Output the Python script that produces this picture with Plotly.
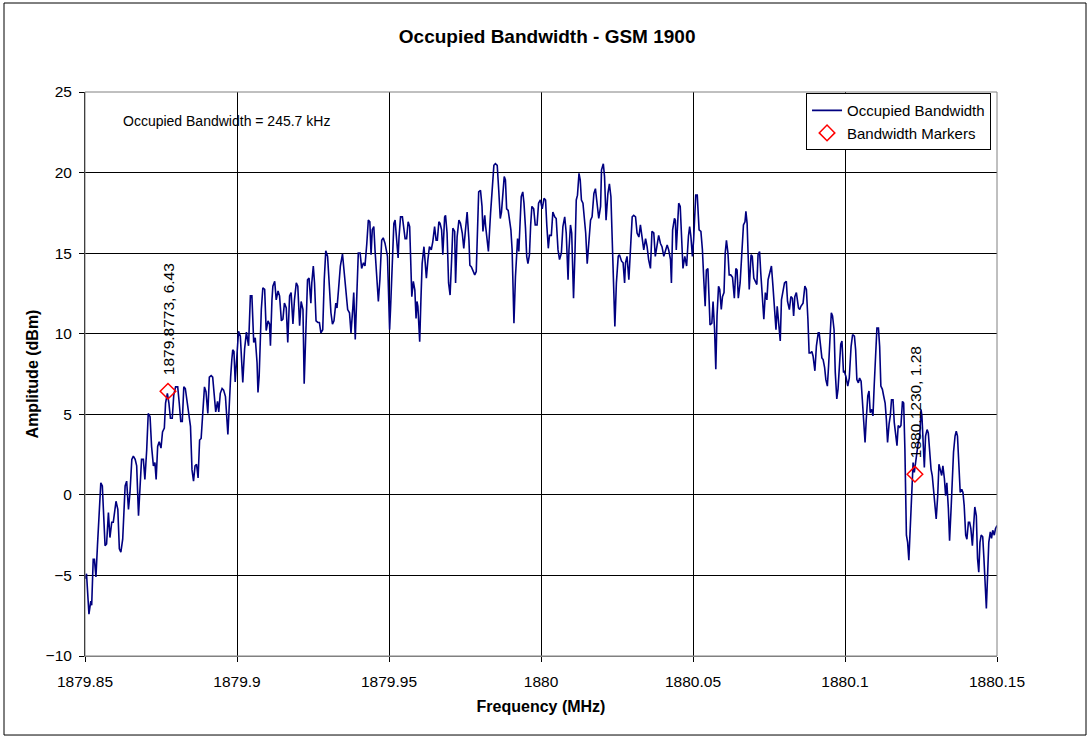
import plotly.graph_objects as go

# ---------------- data ----------------
freq_a = [1879.8500, 1879.8505, 1879.8513, 1879.8519, 1879.8522, 1879.8527, 1879.8531, 1879.8536, 1879.8541, 1879.8546,
          1879.8552, 1879.8557, 1879.8563, 1879.8566, 1879.8571, 1879.8577, 1879.8582, 1879.8588, 1879.8593, 1879.8602,
          1879.8608, 1879.8613, 1879.8618, 1879.8624, 1879.8632, 1879.8637, 1879.8643, 1879.8648, 1879.8654, 1879.8659,
          1879.8665, 1879.8670, 1879.8676, 1879.8681, 1879.8686, 1879.8692, 1879.8697, 1879.8703, 1879.8708, 1879.8714,
          1879.8719, 1879.8725, 1879.8730, 1879.8734, 1879.8739, 1879.8744, 1879.8750, 1879.8755, 1879.8761, 1879.8765,
          1879.8771, 1879.8776, 1879.8781, 1879.8787, 1879.8792, 1879.8798, 1879.8805, 1879.8810, 1879.8815, 1879.8820,
          1879.8825, 1879.8830, 1879.8836, 1879.8841, 1879.8847, 1879.8852, 1879.8857, 1879.8862, 1879.8867, 1879.8872,
          1879.8877, 1879.8882, 1879.8887, 1879.8893, 1879.8898, 1879.8904, 1879.8909, 1879.8915, 1879.8920, 1879.8926,
          1879.8930, 1879.8936, 1879.8940, 1879.8945, 1879.8951, 1879.8956, 1879.8962, 1879.8970, 1879.8974, 1879.8979,
          1879.8983, 1879.8986, 1879.8990, 1879.8994]
amp_a = [-5.2, -4.9, -7.4, -6.6, -6.85, -4.0, -4.0, -5.1, -3.15, -0.9,
         0.75, 0.55, -1.5, -3.15, -3.05, -1.1, -2.65, -1.7, -1.7, -0.4,
         -0.9, -3.35, -3.55, -2.75, 0.55, 0.85, -0.9, 0.15, 2.2, 2.4,
         2.2, 1.8, -1.3, 0.95, 2.2, 2.2, 0.95, 2.8, 5.05, 4.85,
         3.0, 1.8, 2.0, 0.95, 3.0, 3.3, 2.9, 3.9, 4.15, 5.7,
         6.3, 5.7, 4.75, 4.75, 6.2, 6.7, 6.7, 5.7, 4.55, 4.55,
         6.7, 6.6, 5.7, 5.25, 4.25, 1.55, 0.85, 1.8, 1.9, 1.05,
         3.4, 3.5, 5.05, 6.7, 6.4, 5.05, 7.3, 7.4, 7.3, 6.1,
         5.15, 5.8, 5.15, 6.3, 6.6, 6.5, 6.1, 3.75, 5.7, 7.3,
         8.4, 9.0, 8.9, 7.0]

freq_b = [1879.9005, 1879.9011, 1879.9019, 1879.9025, 1879.9031, 1879.9038, 1879.9044, 1879.9049, 1879.9055, 1879.9060,
          1879.9066, 1879.9069, 1879.9073, 1879.9080, 1879.9085, 1879.9091, 1879.9096, 1879.9102, 1879.9107, 1879.9110,
          1879.9115, 1879.9118, 1879.9124, 1879.9129, 1879.9135, 1879.9140, 1879.9146, 1879.9151, 1879.9156, 1879.9162,
          1879.9167, 1879.9173, 1879.9178, 1879.9184, 1879.9189, 1879.9195, 1879.9200, 1879.9206, 1879.9211, 1879.9217,
          1879.9221, 1879.9226, 1879.9232, 1879.9237, 1879.9243, 1879.9246, 1879.9251, 1879.9255, 1879.9260, 1879.9266,
          1879.9271, 1879.9276, 1879.9282, 1879.9287, 1879.9292, 1879.9298, 1879.9303, 1879.9309, 1879.9314, 1879.9319,
          1879.9325, 1879.9329, 1879.9334, 1879.9340, 1879.9347, 1879.9354, 1879.9359, 1879.9364, 1879.9370, 1879.9375,
          1879.9381, 1879.9384, 1879.9389, 1879.9395, 1879.9399, 1879.9405, 1879.9410, 1879.9416, 1879.9421, 1879.9427,
          1879.9432, 1879.9437, 1879.9441, 1879.9445, 1879.9450, 1879.9454, 1879.9459, 1879.9465, 1879.9470, 1879.9476,
          1879.9481, 1879.9487]
amp_b = [10.15, 9.85, 6.98, 9.05, 10.1, 9.25, 12.35, 12.35, 9.45, 9.75,
         8.2, 6.35, 7.4, 11.5, 12.85, 12.75, 10.2, 10.8, 10.6, 9.25,
         12.1, 12.95, 13.25, 12.1, 12.65, 12.35, 10.8, 10.9, 11.9, 11.6,
         9.45, 12.35, 12.55, 10.6, 12.1, 13.15, 12.95, 10.5, 12.0, 11.5,
         6.9, 10.5, 13.35, 13.45, 11.9, 13.15, 14.2, 13.15, 10.8, 10.7,
         10.7, 10.05, 10.25, 13.35, 15.15, 14.8, 12.95, 11.3, 10.6, 10.8,
         11.9, 11.6, 12.75, 14.2, 14.95, 13.35, 12.55, 11.5, 11.3, 10.05,
         11.6, 12.55, 9.65, 12.75, 15.0, 15.0, 14.05, 14.4, 14.2, 15.6,
         17.05, 16.95, 14.9, 16.45, 16.65, 15.2, 13.35, 12.0, 13.35, 15.8,
         15.95, 15.6]

freq_c = [1879.9495, 1879.9498, 1879.9502, 1879.9505, 1879.9511, 1879.9516, 1879.9520, 1879.9525, 1879.9530, 1879.9533,
          1879.9538, 1879.9544, 1879.9549, 1879.9553, 1879.9558, 1879.9563, 1879.9568, 1879.9572, 1879.9575, 1879.9580,
          1879.9585, 1879.9589, 1879.9592, 1879.9595, 1879.9601, 1879.9605, 1879.9609, 1879.9615, 1879.9618, 1879.9623,
          1879.9628, 1879.9633, 1879.9639, 1879.9644, 1879.9650, 1879.9655, 1879.9659, 1879.9664, 1879.9668, 1879.9673,
          1879.9677, 1879.9683, 1879.9686, 1879.9691, 1879.9696, 1879.9701, 1879.9706, 1879.9710, 1879.9716, 1879.9719,
          1879.9724, 1879.9730, 1879.9735, 1879.9741, 1879.9746, 1879.9752, 1879.9757, 1879.9763, 1879.9766, 1879.9771,
          1879.9777, 1879.9782, 1879.9787, 1879.9791, 1879.9795, 1879.9801, 1879.9806, 1879.9809, 1879.9815, 1879.9818,
          1879.9823, 1879.9827, 1879.9834, 1879.9839, 1879.9845, 1879.9850, 1879.9856, 1879.9861, 1879.9866, 1879.9870,
          1879.9874, 1879.9879, 1879.9883, 1879.9887, 1879.9892, 1879.9897, 1879.9901, 1879.9905, 1879.9908, 1879.9911,
          1879.9916, 1879.9920, 1879.9923, 1879.9927, 1879.9930, 1879.9935, 1879.9940, 1879.9944, 1879.9949, 1879.9953,
          1879.9957, 1879.9962, 1879.9966, 1879.9970, 1879.9976, 1879.9981, 1879.9987, 1879.9992, 1879.9998]
amp_c = [14.8, 13.1, 10.25, 11.5, 14.6, 16.85, 17.05, 15.8, 14.7, 16.0,
         17.25, 17.25, 16.25, 15.9, 15.9, 16.95, 16.65, 14.8, 12.3, 13.25,
         12.7, 10.95, 12.0, 11.7, 9.5, 12.1, 14.35, 15.4, 14.6, 13.45,
         14.6, 15.4, 15.2, 15.7, 16.65, 15.8, 15.8, 16.95, 16.85, 16.45,
         14.9, 17.25, 17.35, 16.25, 13.15, 12.4, 14.6, 16.55, 16.35, 13.15,
         16.0, 17.05, 16.85, 16.25, 15.3, 16.85, 17.55, 15.8, 14.25, 14.15,
         13.85, 13.65, 13.85, 16.0, 18.8, 18.9, 17.9, 16.35, 17.35, 16.65,
         15.6, 15.1, 17.45, 19.1, 20.45, 20.55, 20.45, 18.9, 17.15, 17.55,
         18.6, 19.75, 19.55, 17.75, 17.65, 16.95, 16.45, 15.2, 13.15, 10.65,
         13.55, 15.6, 15.9, 15.1, 16.25, 18.5, 18.8, 18.1, 16.55, 14.8,
         14.35, 14.9, 16.75, 17.9, 17.75, 16.75, 16.75, 18.1, 18.3]

freq_d = [1880.0004, 1880.0010, 1880.0015, 1880.0019, 1880.0024, 1880.0028, 1880.0034, 1880.0039, 1880.0045, 1880.0050,
          1880.0056, 1880.0061, 1880.0067, 1880.0072, 1880.0078, 1880.0083, 1880.0089, 1880.0092, 1880.0097, 1880.0101,
          1880.0107, 1880.0112, 1880.0116, 1880.0120, 1880.0125, 1880.0129, 1880.0133, 1880.0138, 1880.0142, 1880.0147,
          1880.0152, 1880.0158, 1880.0163, 1880.0168, 1880.0174, 1880.0179, 1880.0185, 1880.0190, 1880.0196, 1880.0199,
          1880.0205, 1880.0209, 1880.0214, 1880.0220, 1880.0225, 1880.0230, 1880.0234, 1880.0240, 1880.0243, 1880.0248,
          1880.0254, 1880.0258, 1880.0265, 1880.0270, 1880.0275, 1880.0278, 1880.0283, 1880.0289, 1880.0294, 1880.0300,
          1880.0305, 1880.0311, 1880.0316, 1880.0322, 1880.0327, 1880.0333, 1880.0338, 1880.0344, 1880.0349, 1880.0354,
          1880.0360, 1880.0365, 1880.0371, 1880.0376, 1880.0382, 1880.0387, 1880.0393, 1880.0398, 1880.0404, 1880.0409,
          1880.0415, 1880.0420, 1880.0426, 1880.0429, 1880.0433, 1880.0439, 1880.0442, 1880.0445, 1880.0450, 1880.0453,
          1880.0458, 1880.0462, 1880.0467, 1880.0473, 1880.0477]
amp_d = [17.75, 18.4, 18.3, 16.75, 15.3, 16.1, 16.1, 17.55, 17.25, 17.15,
         15.2, 14.6, 15.0, 16.65, 17.25, 16.25, 13.35, 15.2, 16.75, 16.25,
         12.2, 15.2, 18.3, 18.6, 19.95, 19.55, 18.3, 18.1, 17.25, 16.25,
         14.35, 16.0, 17.05, 17.25, 18.7, 19.0, 17.9, 17.15, 17.9, 20.15,
         20.55, 19.75, 17.05, 18.7, 19.3, 18.5, 16.0, 12.9, 10.45, 13.15,
         14.8, 14.9, 14.5, 14.4, 13.15, 14.4, 14.8, 13.35, 15.4, 17.25,
         17.35, 17.25, 16.25, 16.0, 16.75, 15.8, 15.2, 15.9, 15.4, 14.6,
         14.05, 16.35, 16.25, 14.8, 15.5, 16.1, 15.6, 15.4, 14.8, 15.1,
         15.5, 15.2, 14.6, 13.15, 16.45, 17.15, 17.05, 15.2, 17.25, 18.1,
         17.9, 15.8, 14.05, 14.8, 14.3]

freq_e = [1880.0479, 1880.0485, 1880.0489, 1880.0493, 1880.0498, 1880.0502, 1880.0509, 1880.0514, 1880.0520, 1880.0526,
          1880.0531, 1880.0536, 1880.0540, 1880.0544, 1880.0549, 1880.0553, 1880.0556, 1880.0562, 1880.0566, 1880.0571,
          1880.0575, 1880.0579, 1880.0584, 1880.0588, 1880.0593, 1880.0597, 1880.0602, 1880.0606, 1880.0610, 1880.0615,
          1880.0619, 1880.0624, 1880.0630, 1880.0636, 1880.0641, 1880.0645, 1880.0649, 1880.0655, 1880.0660, 1880.0666,
          1880.0671, 1880.0674, 1880.0678, 1880.0681, 1880.0685, 1880.0691, 1880.0695, 1880.0700, 1880.0705, 1880.0710,
          1880.0714, 1880.0719, 1880.0723, 1880.0727, 1880.0733, 1880.0738, 1880.0743, 1880.0747, 1880.0754, 1880.0758,
          1880.0763, 1880.0768, 1880.0773, 1880.0777, 1880.0780, 1880.0787, 1880.0791, 1880.0796, 1880.0801, 1880.0807,
          1880.0811, 1880.0817, 1880.0822, 1880.0827, 1880.0831, 1880.0835, 1880.0840, 1880.0847, 1880.0851, 1880.0855,
          1880.0862, 1880.0868, 1880.0873, 1880.0878, 1880.0882, 1880.0886, 1880.0891, 1880.0895, 1880.0901, 1880.0906,
          1880.0912, 1880.0915, 1880.0920, 1880.0924, 1880.0928, 1880.0933, 1880.0937, 1880.0942, 1880.0946, 1880.0950,
          1880.0955, 1880.0959, 1880.0964, 1880.0968, 1880.0973, 1880.0977, 1880.0981, 1880.0986, 1880.0990]
amp_e = [14.2, 16.05, 16.65, 16.05, 14.8, 15.8, 18.6, 18.6, 16.45, 16.35,
         15.2, 13.15, 11.7, 13.95, 14.05, 12.1, 10.55, 10.65, 12.0, 10.25,
         7.8, 11.1, 12.95, 12.75, 11.5, 12.3, 12.55, 15.0, 15.8, 15.0,
         13.65, 13.65, 13.5, 12.2, 14.05, 13.95, 12.2, 13.15, 14.8, 16.75,
         16.95, 17.6, 16.85, 14.4, 12.75, 14.9, 14.8, 13.45, 13.25, 13.05,
         14.9, 15.1, 13.75, 12.55, 10.9, 12.55, 12.1, 13.35, 13.95, 14.2,
         12.95, 11.3, 10.25, 11.7, 11.0, 9.55, 12.1, 12.75, 13.15, 13.25,
         12.0, 11.5, 12.3, 12.2, 11.1, 12.3, 12.55, 11.6, 11.5, 11.7,
         11.9, 12.95, 12.75, 10.9, 8.8, 8.8, 8.9, 8.6, 7.7, 9.25,
         10.05, 10.05, 9.25, 8.5, 8.4, 7.9, 7.15, 6.75, 8.0, 9.85,
         11.3, 11.1, 10.25, 7.6, 5.95, 6.55, 8.0, 9.35, 9.55]

freq_f = [1880.0995, 1880.0998, 1880.1003, 1880.1009, 1880.1014, 1880.1020, 1880.1025, 1880.1031, 1880.1035, 1880.1039,
          1880.1044, 1880.1048, 1880.1053, 1880.1057, 1880.1061, 1880.1066, 1880.1070, 1880.1075, 1880.1079, 1880.1083,
          1880.1088, 1880.1092, 1880.1096, 1880.1101, 1880.1105, 1880.1110, 1880.1114, 1880.1118, 1880.1123, 1880.1127,
          1880.1132, 1880.1136, 1880.1140, 1880.1145, 1880.1149, 1880.1153, 1880.1158, 1880.1162, 1880.1167, 1880.1171,
          1880.1175, 1880.1180, 1880.1184, 1880.1189, 1880.1193, 1880.1197, 1880.1202, 1880.1206, 1880.1210, 1880.1215,
          1880.1219, 1880.1224, 1880.1228, 1880.1232, 1880.1237, 1880.1241, 1880.1246, 1880.1250, 1880.1253, 1880.1256,
          1880.1261, 1880.1265, 1880.1270, 1880.1274, 1880.1278, 1880.1283, 1880.1287, 1880.1292, 1880.1296, 1880.1300,
          1880.1305, 1880.1309, 1880.1313, 1880.1318, 1880.1322, 1880.1327, 1880.1331, 1880.1335, 1880.1340, 1880.1344,
          1880.1349, 1880.1353, 1880.1357, 1880.1362, 1880.1366, 1880.1370, 1880.1375, 1880.1379, 1880.1384, 1880.1388,
          1880.1392, 1880.1397, 1880.1401, 1880.1406, 1880.1410, 1880.1414, 1880.1419, 1880.1423, 1880.1427, 1880.1432,
          1880.1436, 1880.1440, 1880.1444, 1880.1448, 1880.1453, 1880.1457, 1880.1461, 1880.1465, 1880.1469, 1880.1473,
          1880.1478, 1880.1482, 1880.1486, 1880.1491, 1880.1495, 1880.1500]
amp_f = [7.6, 7.65, 7.35, 6.75, 7.25, 9.2, 9.95, 9.85, 9.0, 7.15,
         6.95, 7.25, 7.05, 5.9, 4.7, 3.25, 4.7, 6.15, 6.45, 5.1,
         5.3, 4.9, 6.75, 8.8, 10.35, 10.35, 9.2, 6.75, 6.55, 6.15,
         5.7, 4.7, 3.25, 4.4, 4.9, 5.9, 5.9, 4.5, 3.45, 3.05,
         4.3, 4.2, 4.3, 5.8, 5.7, 2.85, -2.5, -2.95, -4.05, -1.9,
         0.75, 2.0, 1.4, 2.0, 2.65, 3.25, 3.65, 5.3, 4.9, 3.25,
         1.7, 3.65, 4.05, 3.85, 2.65, 1.6, 1.2, -0.05, -0.85, -1.5,
         -0.05, 1.9, 1.6, 1.2, 1.8, 1.0, -0.05, 0.75, -0.85, -2.85,
         -0.85, 1.2, 2.65, 3.65, 3.95, 3.65, 1.8, 0.15, 0.35, 0.15,
         -0.65, -2.5, -2.75, -1.7, -1.7, -2.1, -3.15, -1.7, -0.75, -1.3,
         -3.95, -4.8, -2.95, -2.5, -2.6, -3.95, -5.4, -7.05, -5.0, -2.95,
         -2.3, -2.7, -2.2, -2.5, -2.1, -1.9]

marker_freq = [1879.8773, 1880.1230]
marker_amp = [6.43, 1.28]

x_tick_vals = [1879.85, 1879.9, 1879.95, 1880.0, 1880.05, 1880.1, 1880.15]
x_tick_text = ["1879.85", "1879.9", "1879.95", "1880", "1880.05", "1880.1", "1880.15"]
y_tick_vals = [-10, -5, 0, 5, 10, 15, 20, 25]

freq = freq_a + freq_b + freq_c + freq_d + freq_e + freq_f
amp = amp_a + amp_b + amp_c + amp_d + amp_e + amp_f

FONT = "Liberation Sans, Arial, sans-serif"

fig = go.Figure()
fig.add_trace(go.Scatter(
    x=freq, y=amp, mode="lines", name="Occupied Bandwidth",
    line=dict(color="#000080", width=1.6),
))
fig.add_trace(go.Scatter(
    x=marker_freq, y=marker_amp, mode="markers", name="Bandwidth Markers",
    marker=dict(symbol="diamond-open", size=12, color="#FF0000", line=dict(color="#FF0000", width=1.5)),
))

for fx, fy in zip(marker_freq, marker_amp):
    fig.add_annotation(
        x=fx, y=fy, xref="x", yref="y", text=f"{fx:.4f}, {fy:.2f}",
        showarrow=False, textangle=-90, xanchor="center", yanchor="bottom",
        yshift=14, font=dict(family=FONT, size=15.5, color="black"),
    )

fig.add_annotation(
    x=0.0395, y=0.9486, xref="paper", yref="paper",
    text="Occupied Bandwidth = 245.7 kHz", showarrow=False,
    xanchor="left", yanchor="middle", font=dict(family=FONT, size=14, color="black"),
)

# outer chart border
fig.add_shape(type="rect", xref="paper", yref="paper",
              x0=-0.0888, x1=1.0976, y0=-0.1401, y1=1.1578,
              line=dict(color="black", width=1), layer="below")
# plot-area border (grey)
fig.add_shape(type="rect", xref="paper", yref="paper",
              x0=0, x1=1, y0=0, y1=1,
              line=dict(color="#808080", width=1), layer="above")

fig.update_layout(
    width=1091, height=738,
    margin=dict(l=85, r=94, t=92, b=82),
    paper_bgcolor="white", plot_bgcolor="white",
    font=dict(family=FONT, size=15, color="black"),
    title=dict(text="<b>Occupied Bandwidth - GSM 1900</b>", x=0.5015, xanchor="center",
               y=0.951, yanchor="middle", font=dict(family=FONT, size=19, color="black")),
    showlegend=True,
    legend=dict(x=0.7906, y=0.998, xanchor="left", yanchor="top",
                bgcolor="white", bordercolor="black", borderwidth=1,
                font=dict(family=FONT, size=15, color="black"),
                tracegroupgap=0, itemwidth=30),
)

fig.update_xaxes(
    range=[1879.85, 1880.15], tickvals=x_tick_vals, ticktext=x_tick_text,
    showgrid=True, gridcolor="black", gridwidth=1, zeroline=False,
    showline=True, linecolor="#808080", linewidth=1,
    ticks="outside", ticklen=5, tickcolor="black", ticklabelstandoff=6,
    tickfont=dict(family=FONT, size=15.5, color="black"),
    title=dict(text="<b>Frequency (MHz)</b>", font=dict(family=FONT, size=16, color="black"), standoff=12),
)
fig.update_yaxes(
    range=[-10, 25], tickvals=y_tick_vals,
    showgrid=True, gridcolor="black", gridwidth=1, zeroline=False,
    showline=True, linecolor="black", linewidth=1,
    ticks="outside", ticklen=5, tickcolor="black", ticklabelstandoff=4,
    tickfont=dict(family=FONT, size=15.5, color="black"),
    title=dict(text="<b>Amplitude (dBm)</b>", font=dict(family=FONT, size=16, color="black"), standoff=3),
)

fig.write_html("out.html", config={"displayModeBar": False},
               post_script="document.body.style.margin='0';")
